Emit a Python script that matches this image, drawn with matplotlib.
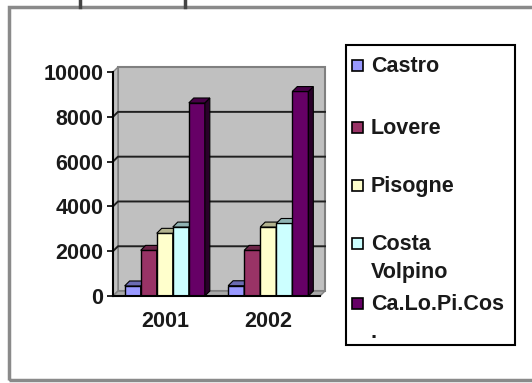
import numpy as np
import matplotlib
matplotlib.use('Agg')
import matplotlib.pyplot as plt
from matplotlib.patches import Polygon, Rectangle
from matplotlib.lines import Line2D
from matplotlib.colors import to_rgb

anni = ['2001', '2002']
comuni = ['Castro', 'Lovere', 'Pisogne', 'Costa\nVolpino', 'Ca.Lo.Pi.Cos\n.']
castro = [450, 460]
lovere = [2040, 2040]
pisogne = [2800, 3080]
costa_volpino = [3080, 3240]
totale = [8620, 9130]
valori = [castro, lovere, pisogne, costa_volpino, totale]
colori = ['#9999FF', '#993366', '#FFFFCC', '#CCFFFF', '#660066']
yticks = [0, 2000, 4000, 6000, 8000, 10000]

plt.rcParams['font.family'] = ['Liberation Sans', 'DejaVu Sans']
testo = '#1a1a1a'

W, H = 532, 383
fig = plt.figure(figsize=(W / 100, H / 100), dpi=100)


def px(x, y):
    # pixel -> coordinate figura
    return x / W, 1 - y / H


ax = fig.add_axes([113 / W, 1 - 296 / H, 207 / W, 224 / H])
ax.set_xlim(-0.5, 1.5)
ax.set_ylim(0, 10000)
ax.patch.set_visible(False)

dx, dy = 0.048, 220   # profondita' effetto 3D
x0, x1 = -0.5, 1.5
ytop = yticks[-1]
grigio = '#C0C0C0'

# pareti e pavimento
ax.add_patch(Polygon([(x0 + dx, dy), (x1 + dx, dy), (x1 + dx, ytop + dy), (x0 + dx, ytop + dy)],
                     closed=True, fc=grigio, ec='#808080', lw=1.5, clip_on=False, zorder=0))
ax.add_patch(Polygon([(x0, 0), (x0 + dx, dy), (x0 + dx, ytop + dy), (x0, ytop)],
                     closed=True, fc=grigio, ec='#808080', lw=1, clip_on=False, zorder=0))
ax.add_patch(Polygon([(x0, 0), (x1, 0), (x1 + dx, dy), (x0 + dx, dy)],
                     closed=True, fc='#A8A8A8', ec='#808080', lw=1, clip_on=False, zorder=0))
for t in yticks[1:-1]:
    ax.plot([x0, x0 + dx, x1 + dx], [t, t + dy, t + dy], color='#202020', lw=1.4,
            clip_on=False, zorder=1)

# colonne
x = np.arange(len(anni))
w = 0.155
for i, (serie, col) in enumerate(zip(valori, colori)):
    pos = x + (i - 2) * w
    c = np.array(to_rgb(col))
    ax.bar(pos, serie, w, color=col, edgecolor='black', linewidth=1, zorder=3 + i)
    for p, h in zip(pos, serie):
        l, r = p - w / 2, p + w / 2
        ax.add_patch(Polygon([(r, 0), (r + dx, dy), (r + dx, h + dy), (r, h)], closed=True,
                             fc=c * 0.4, ec='black', lw=0.8, zorder=3 + i, clip_on=False))
        ax.add_patch(Polygon([(l, h), (l + dx, h + dy), (r + dx, h + dy), (r, h)], closed=True,
                             fc=c * 0.7, ec='black', lw=0.8, zorder=3 + i, clip_on=False))

for s in ['top', 'right']:
    ax.spines[s].set_visible(False)
ax.spines['left'].set_linewidth(1.5)
ax.spines['bottom'].set_linewidth(1.5)
ax.spines['left'].set_zorder(10)
ax.spines['bottom'].set_zorder(10)

ax.set_yticks(yticks)
ax.set_yticklabels([str(v) for v in yticks], fontsize=15.5, fontweight='bold', color=testo)
ax.tick_params(axis='y', direction='out', length=4, width=1.2, pad=3)
ax.set_xticks(x)
ax.set_xticklabels(anni, fontsize=15.5, fontweight='bold', color=testo)
ax.tick_params(axis='x', length=0, pad=11)

# legenda
fig.patches.append(Rectangle(px(346, 345), 169 / W, 300 / H, transform=fig.transFigure,
                             fc='white', ec='black', lw=1.5, zorder=1))
righe = [65, 127, 185, 243, 303]
for nome, col, yr in zip(comuni, colori, righe):
    fig.patches.append(Rectangle(px(352, yr + 6), 11 / W, 11 / H, transform=fig.transFigure,
                                 fc=col, ec='black', lw=1.2, zorder=2))
    fig.text(*px(371, yr - 9), nome, ha='left', va='top', fontsize=15.5,
             fontweight='bold', color=testo, linespacing=1.45, zorder=3)

# cornice
fig.patches.append(Rectangle(px(9, 380), 540 / W, 373 / H, transform=fig.transFigure,
                             fc='none', ec='#8a8a8a', lw=2.5, zorder=0))
for xt in [80, 185]:
    fig.lines.append(Line2D([xt / W, xt / W], [1 - 1 / H, 1 - 7 / H], transform=fig.transFigure,
                            color='#444444', lw=2.5))

fig.savefig('out.png', dpi=100)
